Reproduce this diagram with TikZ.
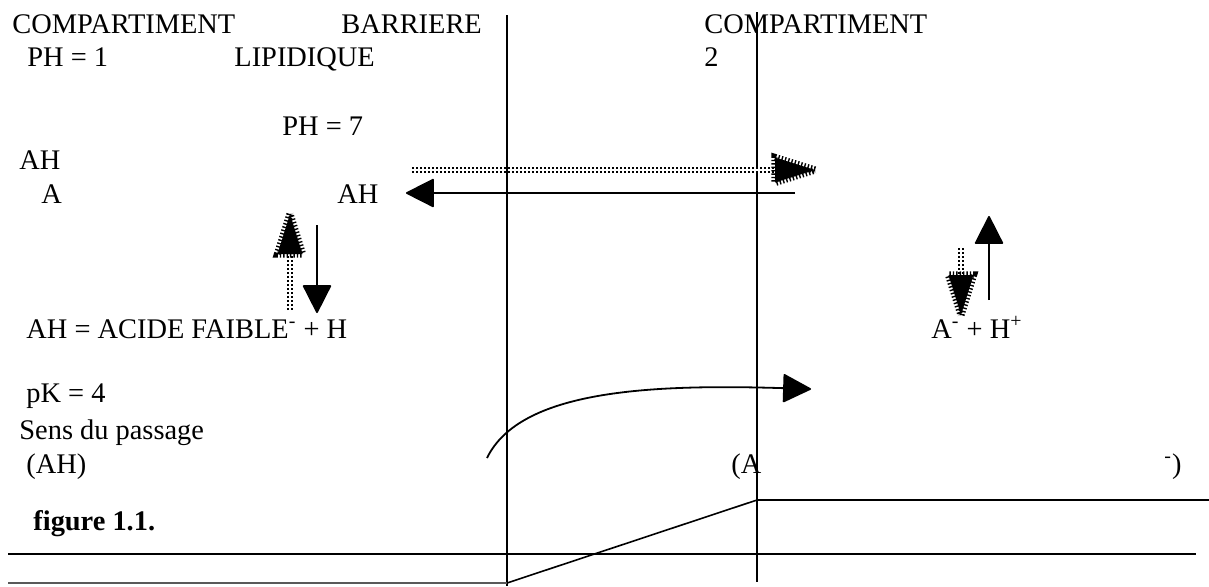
\documentclass[tikz,border=0pt]{standalone}
\usepackage{fontspec}
\setmainfont{Liberation Serif}
\usepackage{tikz}
\usetikzlibrary{arrows.meta}

% comb-edged head of the dotted arrows
\newcommand{\hairyhead}[2]{%
  \begin{scope}[shift={(#1)}, rotate=#2]
    \fill (0,0) -- (-40,-12.5) -- (-40,12.5) -- cycle;
    \draw[hairy] (0,0) -- (-40,-12.5) -- (-40,12.5) -- cycle;
  \end{scope}}

\begin{document}
\begin{tikzpicture}[x=0.5pt, y=-0.5pt,
  lbl/.style={anchor=base west, inner sep=0pt, font=\fontsize{14.2}{17}\selectfont},
  wall/.style={line width=0.8pt},
  thinwall/.style={line width=0.6pt, draw=black!65},
  solidarrow/.style={line width=0.9pt, -{Triangle[length=14.5pt, width=14.5pt, round]}},
  dotarrow/.style={double, double distance=1.1pt, line width=0.95pt, dash pattern=on 1.1pt off 0.9pt},
  hairy/.style={line width=3.6pt, dash pattern=on 0.7pt off 1pt}
]
\useasboundingbox (0,0) rectangle (1209,586);

% labels
\node[lbl] (compun) at (12,33) {COMPARTIMENT};
\node[lbl] (barriere) at (341,33) {BARRIERE};
\node[lbl] (phun) at (27,66) {PH = 1};
\node[lbl] (lipidique) at (234,66) {LIPIDIQUE};
\node[lbl] (compdeux) at (704,33) {COMPARTIMENT};
\node[lbl] (deux) at (704,66) {2};
\node[lbl] (phsept) at (282,135) {PH = 7};
\node[lbl] (ahun) at (19,169) {AH};
\node[lbl] (aun) at (41,203) {A};
\node[lbl] (ahdeux) at (337,203) {AH};
\node[lbl] (acide) at (26,338) {AH = ACIDE FAIBLE\textsuperscript{-} + H};
\node[lbl] (ions) at (931,338) {A\textsuperscript{-} + H\textsuperscript{+}};
\node[lbl] (pk) at (26,402) {pK = 4};
\node[lbl] (sens) at (19,439) {Sens du passage};
\node[lbl] (sensah) at (26,473) {(AH)};
\node[lbl] (sensa) at (731,473) {(A};
\node[lbl] (sensfin) at (1164,473) {\textsuperscript{-})};
\node[lbl, font=\fontsize{14.2}{17}\selectfont\bfseries] (fig) at (33,530) {figure 1.1.};

% membrane walls and profile
\coordinate (wallat) at (507,15);
\coordinate (wallab) at (507,586);
\coordinate (wallbt) at (757,12);
\coordinate (wallbb) at (757,582);
\draw[wall] (wallat) -- (wallab);
\draw[wall] (wallbt) -- (wallbb);
\coordinate (basel) at (8,554);
\coordinate (baser) at (1196,554);
\draw[wall] (basel) -- (baser);
\coordinate (lowl) at (8,583);
\coordinate (lowr) at (507,583);
\coordinate (stepl) at (757,500);
\coordinate (stepr) at (1209,500);
\draw[thinwall] (lowl) -- (lowr);
\draw[wall] (lowr) -- (stepl) -- (stepr);

% solid arrows
\coordinate (backs) at (795,193);
\coordinate (backe) at (406,193);
\draw[solidarrow] (backs) -- (backe);
\coordinate (downs) at (317,225);
\coordinate (downe) at (317,313);
\draw[solidarrow] (downs) -- (downe);
\coordinate (ups) at (989,300);
\coordinate (upe) at (989,216);
\draw[solidarrow] (ups) -- (upe);
\coordinate (curves) at (487,458);
\coordinate (curvee) at (811,389);
\draw[solidarrow] (curves) .. controls (520,390) and (650,384) .. (curvee);

% dotted arrows
\coordinate (dotrs) at (412,170);
\coordinate (dotre) at (776,170);
\coordinate (dotrt) at (815,170);
\draw[dotarrow] (dotrs) -- (dotre);
\hairyhead{dotrt}{0}
\coordinate (dotus) at (290,310);
\coordinate (dotue) at (290,254);
\coordinate (dotut) at (290,214);
\draw[dotarrow] (dotus) -- (dotue);
\hairyhead{dotut}{90}
\coordinate (dotds) at (961,248);
\coordinate (dotde) at (961,276);
\coordinate (dotdt) at (961,315);
\draw[dotarrow] (dotds) -- (dotde);
\hairyhead{dotdt}{-90}
\end{tikzpicture}
\end{document}
